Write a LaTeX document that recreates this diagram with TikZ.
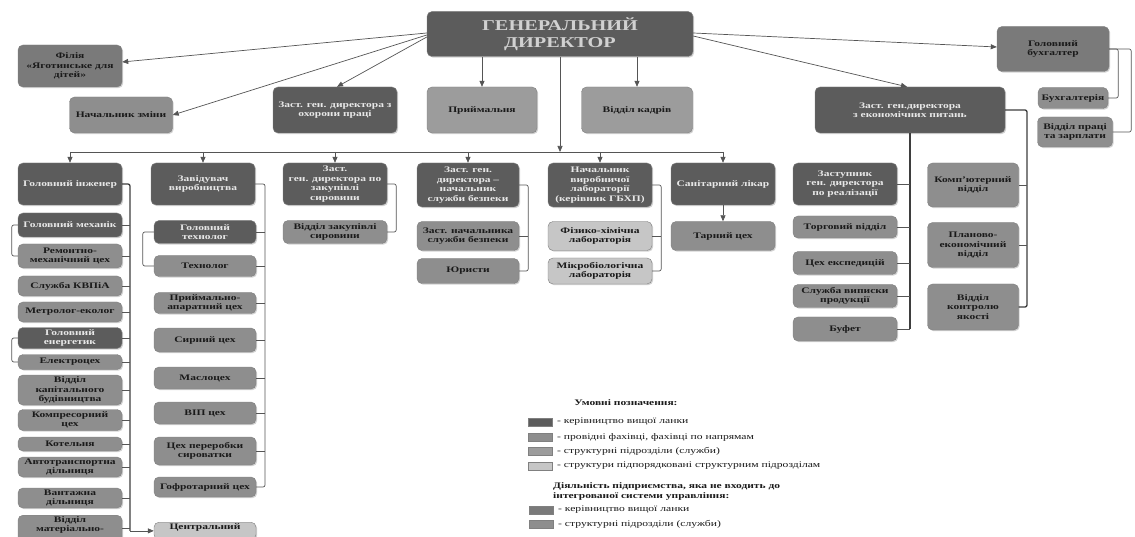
\documentclass[tikz,border=0pt]{standalone}
\usepackage{fontspec}
\setmainfont{Liberation Serif}[FakeStretch=1.35]
\usetikzlibrary{arrows.meta,shadows}

\definecolor{leadgray}{HTML}{5C5C5C}
\definecolor{extgray}{HTML}{7A7A7A}
\definecolor{unitgray}{HTML}{8E8E8E}
\definecolor{specgray}{HTML}{9C9C9C}
\definecolor{subgray}{HTML}{C6C6C6}
\definecolor{leadtext}{HTML}{E8E8E8}
\definecolor{darktext}{HTML}{1A1A1A}
\definecolor{linegray}{HTML}{555555}
\definecolor{trunkgray}{HTML}{3E3E3E}

\newcommand{\boxfont}{\fontsize{8.5}{9.5}\selectfont\bfseries}
\newcommand{\gdfont}{\fontsize{15}{17}\selectfont\bfseries}
\newcommand{\legfont}{\fontsize{8.6}{10}\selectfont}
\newcommand{\legbold}{\fontsize{8.5}{10}\selectfont\bfseries}

\tikzset{
  orgbox/.style={draw=black!50, line width=0.4pt, rounded corners=5pt,
    align=center, inner sep=1pt, font=\boxfont,
    drop shadow={shadow xshift=1.2pt, shadow yshift=-1.2pt, opacity=0.35}},
  leadbox/.style={orgbox, fill=leadgray, text=leadtext},
  extbox/.style={orgbox, fill=extgray, text=darktext},
  unitbox/.style={orgbox, fill=unitgray, text=darktext},
  specbox/.style={orgbox, fill=specgray, text=darktext},
  subbox/.style={orgbox, fill=subgray, text=darktext},
  colA/.style={minimum width=104pt},
  colB/.style={minimum width=102pt},
  colR/.style={minimum width=91pt},
  link/.style={draw=linegray, line width=0.7pt, rounded corners=2pt},
  arr/.style={draw=linegray, line width=0.7pt, -{Triangle[length=6pt,width=5pt]}},
  trunk/.style={draw=trunkgray, line width=1.3pt, rounded corners=2pt},
  swatch/.style={draw=black!50, minimum width=24pt, minimum height=8pt, inner sep=0pt,
    drop shadow={shadow xshift=1pt, shadow yshift=-1pt, opacity=0.3}},
  legtext/.style={anchor=west, font=\legfont, text=darktext, inner sep=1pt},
}

\begin{document}
\begin{tikzpicture}[x=1pt, y=-1pt]
  \useasboundingbox (0,0) rectangle (1135,537);
  \fill[white] (0,0) rectangle (1135,537);
  \clip (0,0) rectangle (1135,537);

  % Top level
  \node[leadbox, minimum width=266pt, minimum height=45pt, font=\gdfont, text=leadtext!90!black] (gd) at (560,34) {ГЕНЕРАЛЬНИЙ\\ДИРЕКТОР};
  \node[extbox, minimum width=104pt, minimum height=42pt] (filia) at (70,66) {Філія\\«Яготинське для\\дітей»};
  \node[unitbox, minimum width=103pt, minimum height=36pt] (zmina) at (121,115) {Начальник зміни};
  \node[leadbox, minimum width=124pt, minimum height=46pt] (ohor) at (335,110) {Заст. ген. директора з\\охорони праці};
  \node[specbox, minimum width=110pt, minimum height=46pt] (pryim) at (482,110) {Приймальня};
  \node[specbox, minimum width=111pt, minimum height=46pt] (kadry) at (637,110) {Відділ кадрів};
  \node[leadbox, minimum width=190pt, minimum height=46pt] (ekon) at (910,110) {Заст. ген.директора\\з економічних питань};
  \node[extbox, minimum width=112pt, minimum height=45pt] (buhg) at (1053,49) {Головний\\бухгалтер};
  \node[unitbox, minimum width=70pt, minimum height=21pt] (buh) at (1073,98) {Бухгалтерія};
  \node[unitbox, minimum width=75pt, minimum height=30pt] (pratsi) at (1075,132) {Відділ праці\\та зарплати};

  % Second level
  \node[leadbox, colA, minimum height=42pt] (inzh) at (70,184) {Головний інженер};
  \node[leadbox, colA, minimum height=42pt] (zav) at (203,184) {Завідувач\\виробництва};
  \node[leadbox, colA, minimum height=42pt] (zakup) at (335,184) {Заст.\\ген. директора по\\закупівлі\\сировини};
  \node[leadbox, colB, minimum height=44pt] (bezp) at (468,185) {Заст. ген.\\директора --\\начальник\\служби безпеки};
  \node[leadbox, colA, minimum height=44pt] (lab) at (600,185) {Начальник\\виробничої\\лабораторії\\(керівник ГБХП)};
  \node[leadbox, colA, minimum height=42pt] (likar) at (723,184) {Санітарний лікар};
  \node[leadbox, colA, minimum height=42pt] (real) at (845,184) {Заступник\\ген. директора\\по реалізації};
  \node[unitbox, colR, minimum height=44pt] (komp) at (973,185) {Комп'ютерний\\відділ};

  % Column under the chief engineer
  \node[leadbox, colA, minimum height=24pt] (mekh) at (70,225) {Головний механік};
  \node[unitbox, colA, minimum height=24pt] (remont) at (70,256) {Ремонтно-\\механічний цех};
  \node[unitbox, colA, minimum height=20pt] (kvpia) at (70,286) {Служба КВПіА};
  \node[unitbox, colA, minimum height=20pt] (metr) at (70,312) {Метролог-еколог};
  \node[leadbox, colA, minimum height=21pt] (energ) at (70,338) {Головний\\енергетик};
  \node[unitbox, colA, minimum height=15pt] (elektr) at (70,362) {Електроцех};
  \node[unitbox, colA, minimum height=30pt] (kapbud) at (70,390) {Відділ\\капітального\\будівництва};
  \node[unitbox, colA, minimum height=21pt] (kompr) at (70,420) {Компресорний\\цех};
  \node[unitbox, colA, minimum height=14pt] (kotel) at (70,444) {Котельня};
  \node[unitbox, colA, minimum height=20pt] (avto) at (70,467) {Автотранспортна\\дільниця};
  \node[unitbox, colA, minimum height=20pt] (vant) at (70,498) {Вантажна\\дільниця};
  \node[unitbox, colA, anchor=north] (matvid) at (70,515) {Відділ\\матеріально-\\~};

  % Column under production
  \node[leadbox, colB, minimum height=23pt] (tekhn) at (205,232) {Головний\\технолог};
  \node[unitbox, colB, minimum height=21pt] (tekh) at (205,266) {Технолог};
  \node[unitbox, colB, minimum height=21pt] (pryiap) at (205,303) {Приймально-\\апаратний цех};
  \node[unitbox, colB, minimum height=24pt] (syr) at (205,340) {Сирний цех};
  \node[unitbox, colB, minimum height=22pt] (maslo) at (205,378) {Маслоцех};
  \node[unitbox, colB, minimum height=22pt] (vip) at (205,413) {ВІП цех};
  \node[unitbox, colB, minimum height=28pt] (syrov) at (205,451) {Цех переробки\\сироватки};
  \node[unitbox, colB, minimum height=20pt] (gofro) at (205,487) {Гофротарний цех};
  \node[subbox, colB, anchor=north] (centr) at (205,522) {Центральний\\~};

  % Other columns
  \node[unitbox, colA, minimum height=23pt] (zakvid) at (335,232) {Відділ закупівлі\\сировини};
  \node[unitbox, colB, minimum height=29pt] (zambez) at (468,236) {Заст. начальника\\служби безпеки};
  \node[unitbox, colB, minimum height=25pt] (yur) at (468,271) {Юристи};
  \node[subbox, colA, minimum height=29pt] (fizkh) at (600,236) {Фізико-хімічна\\лабораторія};
  \node[subbox, colA, minimum height=26pt] (mikro) at (600,271) {Мікробіологічна\\лабораторія};
  \node[unitbox, colA, minimum height=29pt] (tara) at (723,236) {Тарний цех};
  \node[unitbox, colA, minimum height=22pt] (torg) at (845,227) {Торговий відділ};
  \node[unitbox, colA, minimum height=23pt] (eksp) at (845,263) {Цех експедицій};
  \node[unitbox, colA, minimum height=23pt] (vypys) at (845,296) {Служба виписки\\продукції};
  \node[unitbox, colA, minimum height=24pt] (bufet) at (845,329) {Буфет};
  \node[unitbox, colR, minimum height=45pt] (plan) at (973,245) {Планово-\\економічний\\відділ};
  \node[unitbox, colR, minimum height=46pt] (yakist) at (973,307) {Відділ\\контролю\\якості};

  % Arrows from the general director
  \draw[arr] ([yshift=1pt]gd.west) -- ([yshift=4pt]filia.east);
  \draw[arr] ([yshift=-1pt]gd.west) -- (zmina.east);
  \draw[arr] ([yshift=-3pt]gd.west) -- ([xshift=2pt]ohor.north);
  \draw[arr] (gd.south -| pryim.north) -- (pryim.north);
  \draw[arr] (gd.south -| kadry.north) -- (kadry.north);
  \draw[arr] ([yshift=1pt]gd.east) -- ([yshift=2pt]buhg.west);
  \draw[arr] ([yshift=-2pt]gd.east) -- ([xshift=-3pt]ekon.north);

  % Bus to the second level
  \coordinate (busL) at (70,152);
  \coordinate (busR) at (723,152);
  \draw[link] (busL) -- (busR);
  \draw[arr] (gd.south) -- (gd.south |- busL);
  \foreach \n in {inzh,zav,zakup,bezp,lab,likar}
    \draw[arr] (\n.north |- busL) -- (\n.north);

  % Chief engineer
  \coordinate (trA) at (130,0);
  \draw[trunk] (inzh.east) -| (trA |- centr.west);
  \draw[arr] (trA |- centr.west) -- (centr.west);
  \foreach \n in {mekh,remont,kvpia,metr,energ,elektr,kapbud,kompr,kotel,avto,vant,matvid}
    \draw[link] (\n.east) -- (\n.east -| trA);
  \draw[link] (mekh.west) -- ++(-6,0) |- (remont.west);
  \draw[link] (energ.west) -- ++(-6,0) |- (elektr.west);

  % Production
  \coordinate (trB) at (265,0);
  \draw[link] (zav.east) -| (trB |- gofro.east) -- (gofro.east);
  \foreach \n in {tekhn,tekh,pryiap,syr,maslo,vip,syrov}
    \draw[link] (\n.east) -- (\n.east -| trB);
  \draw[link] (tekhn.west) -- ++(-11,0) |- (tekh.west);

  % Deputies, laboratory, doctor
  \draw[link] (zakup.east) -- ++(9,0) |- (zakvid.east);
  \draw[link] (bezp.east) -- ++(9,0) |- (yur.east);
  \draw[link] (zambez.east) -- ++(9,0);
  \draw[link] (lab.east) -- ++(9,0) |- (mikro.east);
  \draw[link] (fizkh.east) -- ++(9,0);
  \draw[arr] (likar) -- (tara);

  % Economic deputy
  \draw[trunk] (ekon.south) -- (ekon.south |- bufet.east);
  \foreach \n in {real,torg,eksp,vypys,bufet}
    \draw[link] (\n.east) -- (\n.east -| ekon.south);
  \coordinate (trD) at (1027,0);
  \draw[trunk] (ekon.east) -| (trD |- yakist.east) -- (yakist.east);
  \foreach \n in {komp,plan}
    \draw[link] (\n.east) -- (\n.east -| trD);

  % Chief accountant
  \draw[link] (buhg.east) -- ++(9,0) |- (buh.east);
  \draw[link] (buhg.east) -- ++(22,0) |- (pratsi.east);

  % Legend
  \node[font=\legbold, text=darktext] (legtitle) at (626,403) {Умовні позначення:};
  \node[swatch, fill=leadgray] (sw1) at (540,422) {};
  \node[legtext] (lt1) at (556,422) {- керівництво вищої ланки};
  \node[swatch, fill=unitgray] (sw2) at (540,437) {};
  \node[legtext] (lt2) at (556,437) {- провідні фахівці, фахівці по напрямам};
  \node[swatch, fill=specgray] (sw3) at (540,451) {};
  \node[legtext] (lt3) at (556,451) {- структурні підрозділи (служби)};
  \node[swatch, fill=subgray] (sw4) at (540,466) {};
  \node[legtext] (lt4) at (556,466) {- структури підпорядковані структурним підрозділам};
  \node[font=\legbold, text=darktext, align=left, anchor=north west, inner sep=0pt] (legnote) at (553,482) {Діяльність підприємства, яка не входить до\\інтегрованої системи управління:};
  \node[swatch, fill=extgray] (sw5) at (541,510) {};
  \node[legtext] (lt5) at (557,510) {- керівництво вищої ланки};
  \node[swatch, fill=unitgray] (sw6) at (541,524) {};
  \node[legtext] (lt6) at (557,524) {- структурні підрозділи (служби)};
\end{tikzpicture}
\end{document}
